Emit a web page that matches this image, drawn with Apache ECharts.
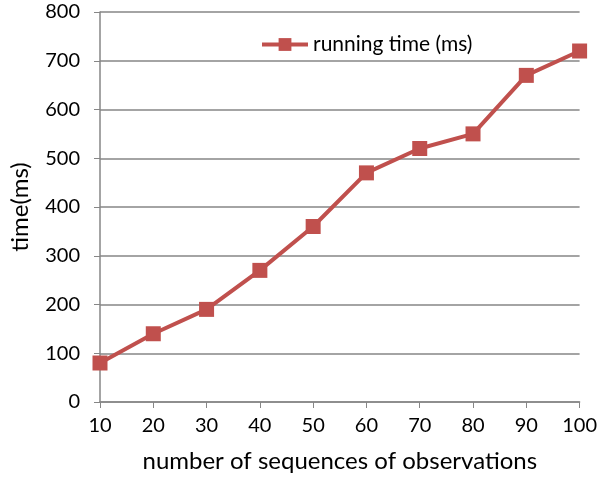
<!DOCTYPE html>
<html>
<head>
<meta charset="utf-8">
<script src="https://cdn.jsdelivr.net/npm/echarts@6/dist/echarts.min.js"></script>
<style>
  html, body { margin: 0; padding: 0; background: #fff; }
  #chart { width: 600px; height: 478px; }
</style>
</head>
<body>
<div id="chart"></div>
<script>
  // data
  var categories = ['10', '20', '30', '40', '50', '60', '70', '80', '90', '100']
  var runningTime = [80, 140, 190, 270, 360, 470, 520, 550, 670, 720]
  var seriesName = 'running time (ms)'

  var red = '#c0504d'
  var grey = '#868686'
  var font = 'Lato, "Open Sans", sans-serif'

  var chart = echarts.init(document.getElementById('chart'))
  chart.setOption({
    animation: false,
    textStyle: { fontFamily: font },
    legend: {
      data: [seriesName],
      left: 255,
      top: 29,
      itemWidth: 46,
      itemHeight: 16,
      itemGap: 4,
      lineStyle: { width: 4 },
      textStyle: { fontSize: 21, color: '#000', fontFamily: font }
    },
    grid: {
      left: 97,
      right: 15,
      top: 12,
      bottom: 76,
      containLabel: false
    },
    xAxis: {
      type: 'category',
      boundaryGap: false,
      data: categories,
      name: 'number of sequences of observations',
      nameLocation: 'middle',
      nameGap: 47,
      nameTextStyle: { fontSize: 24, color: '#000', fontFamily: font },
      axisLine: { lineStyle: { color: grey, width: 1.5 } },
      axisTick: { show: true, alignWithLabel: true, length: 6, lineStyle: { color: grey } },
      axisLabel: { fontSize: 20, color: '#000', margin: 14, fontFamily: font },
      splitLine: { show: false }
    },
    yAxis: {
      type: 'value',
      min: 0,
      max: 800,
      interval: 100,
      name: 'time(ms)',
      nameLocation: 'middle',
      nameGap: 68,
      nameTextStyle: { fontSize: 24, color: '#000', fontFamily: font },
      axisLine: { show: true, lineStyle: { color: grey, width: 1.5 } },
      axisTick: { show: true, length: 6, lineStyle: { color: grey } },
      axisLabel: { fontSize: 20, color: '#000', margin: 20, fontFamily: font },
      splitLine: { show: true, lineStyle: { color: grey, width: 1.5 } }
    },
    series: [
      {
        name: seriesName,
        type: 'line',
        data: runningTime,
        symbol: 'rect',
        symbolSize: 15,
        showAllSymbol: true,
        lineStyle: { color: red, width: 4 },
        itemStyle: { color: red }
      }
    ]
  })
</script>
</body>
</html>
